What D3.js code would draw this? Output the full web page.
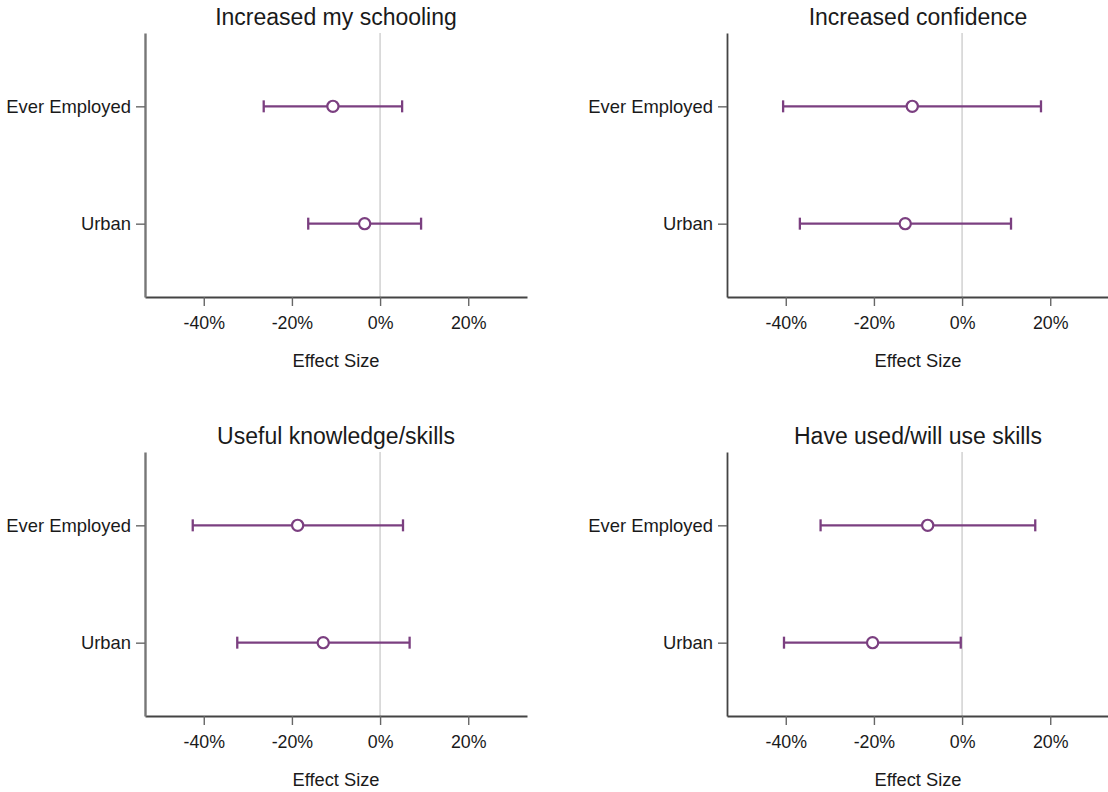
<!DOCTYPE html>
<html>
<head>
<meta charset="utf-8">
<script src="https://cdn.jsdelivr.net/npm/d3@7"></script>
<style>
  html, body { margin: 0; padding: 0; background: #ffffff; }
  svg { display: block; }
  text { font-family: "Liberation Sans", Arial, sans-serif; fill: #1a1a1a; }
</style>
</head>
<body>
<svg id="chart" width="1108" height="792"></svg>
<script>
// ---- Data ----
const titles = ["Increased my schooling", "Increased confidence", "Useful knowledge/skills", "Have used/will use skills"];
const categories = ["Ever Employed", "Urban"];
const estimates = [[-0.107, -0.035], [-0.113, -0.129], [-0.187, -0.129], [-0.078, -0.203]];
const lowerCI   = [[-0.264, -0.163], [-0.406, -0.368], [-0.425, -0.324], [-0.321, -0.404]];
const upperCI   = [[ 0.050,  0.093], [ 0.179,  0.111], [ 0.052,  0.067], [ 0.166, -0.003]];
const xTicks = [-0.4, -0.2, 0, 0.2];
const xTickLabels = ["-40%", "-20%", "0%", "20%"];
const xAxisTitle = "Effect Size";

// ---- Layout ----
const svg = d3.select("#chart");
const plotW = 382, plotH = 264;
const origins = [[145, 33], [727, 33], [145, 452], [727, 452]];
const purple = "#7b3f80";

const x = d3.scaleLinear().domain([-0.5333, 0.3333]).range([0, plotW]);
const y = d3.scaleLinear().domain([0.375, 2.625]).range([0, plotH]);

titles.forEach((title, p) => {
  const [ox, oy] = origins[p];
  const g = svg.append("g").attr("transform", `translate(${ox},${oy})`);
  const isLeft = (p % 2 === 0);

  // zero reference line
  g.append("line")
    .attr("x1", x(0)).attr("x2", x(0))
    .attr("y1", 0).attr("y2", plotH)
    .attr("stroke", "#d4d4d4").attr("stroke-width", 1.6);

  // x axis
  const xAxis = d3.axisBottom(x)
    .tickValues(xTicks)
    .tickFormat((d, i) => xTickLabels[i])
    .tickSize(9).tickPadding(10).tickSizeOuter(0);
  const gx = g.append("g").attr("transform", `translate(0,${plotH})`).call(xAxis);
  gx.select(".domain").attr("stroke", "#444").attr("stroke-width", 1.8);
  gx.selectAll(".tick line").attr("stroke", "#666").attr("stroke-width", 1.4);
  gx.selectAll(".tick text").attr("font-size", 17.8).attr("fill", "#1a1a1a")
    .attr("font-family", '"Liberation Sans", Arial, sans-serif');

  // y axis
  const yAxis = d3.axisLeft(y)
    .tickValues([1, 2])
    .tickFormat((d) => categories[d - 1])
    .tickSize(9).tickPadding(5).tickSizeOuter(0);
  const gy = g.append("g").call(yAxis);
  gy.select(".domain").attr("stroke", isLeft ? "#777" : "#444").attr("stroke-width", isLeft ? 2.4 : 1.8);
  gy.selectAll(".tick line").attr("stroke", "#666").attr("stroke-width", 1.4);
  gy.selectAll(".tick text").attr("font-size", 18.4).attr("fill", "#1a1a1a")
    .attr("font-family", '"Liberation Sans", Arial, sans-serif');

  // title
  g.append("text")
    .attr("x", plotW / 2).attr("y", -8)
    .attr("text-anchor", "middle")
    .attr("font-size", 23)
    .text(title);

  // axis title
  g.append("text")
    .attr("x", x(-0.1)).attr("y", plotH + 70)
    .attr("text-anchor", "middle")
    .attr("font-size", 18.3)
    .text(xAxisTitle);

  // error bars
  categories.forEach((c, i) => {
    const cy = y(i + 1);
    const lo = lowerCI[p][i], hi = upperCI[p][i], est = estimates[p][i];
    g.append("line")
      .attr("x1", x(lo)).attr("x2", x(hi))
      .attr("y1", cy).attr("y2", cy)
      .attr("stroke", purple).attr("stroke-width", 2.3);
    [lo, hi].forEach(v => {
      g.append("line")
        .attr("x1", x(v)).attr("x2", x(v))
        .attr("y1", cy - 6).attr("y2", cy + 6)
        .attr("stroke", purple).attr("stroke-width", 2.3);
    });
    g.append("circle")
      .attr("cx", x(est)).attr("cy", cy).attr("r", 5.6)
      .attr("fill", "#ffffff")
      .attr("stroke", purple).attr("stroke-width", 2.2);
  });
});
</script>
</body>
</html>
